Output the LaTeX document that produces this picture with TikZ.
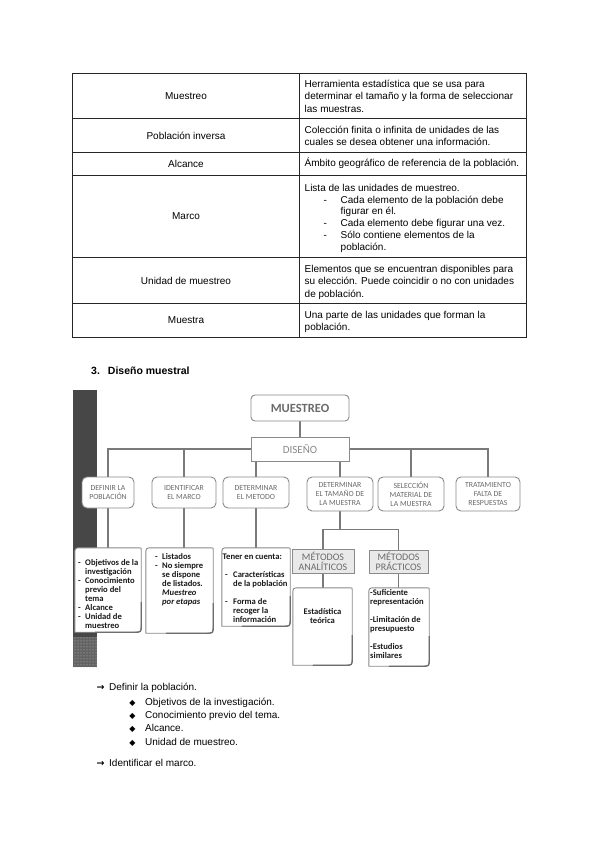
\documentclass[tikz,border=0pt]{standalone}
\usepackage{fontspec}
\setmainfont{Liberation Sans}
\newfontfamily\diagfont{Carlito}
\newfontfamily\symfont{DejaVu Sans}
\usetikzlibrary{calc,patterns,backgrounds}
\definecolor{barc}{HTML}{474747}
\definecolor{linec}{HTML}{7A7A7A}
\definecolor{boxc}{HTML}{8A8A8A}
\definecolor{txtg}{HTML}{6A6A6A}
\definecolor{fillg}{HTML}{E9E9E9}
\newcommand\curlbox[2][7]{%
  \draw[cbox] (#2.south west) -- ($(#2.north west)+(0,#1)$) .. controls (#2.north west) .. ($(#2.north west)+(#1,0)$)
    -- ($(#2.north east)+(-2,0)$) .. controls (#2.north east) .. ($(#2.north east)+(0,2)$)
    -- ($(#2.south east)+(0,-#1)$) .. controls (#2.south east) .. ($(#2.south east)+(-#1,0)$) -- cycle;
  \draw[cshadow] ($(#2.south east)+(0,-30)$) -- ($(#2.south east)+(0,-#1)$) .. controls (#2.south east) .. ($(#2.south east)+(-#1,0)$) -- ($(#2.south west)+(20,0)$);}
\begin{document}
\begin{tikzpicture}[x=1pt,y=-1pt,
  tline/.style={draw=black!85,line width=0.9pt},
  lcell/.style={font=\fontsize{10}{12.3}\selectfont,inner sep=0pt},
  rcell/.style={font=\fontsize{10}{12.3}\selectfont,inner sep=0pt,anchor=north west,align=left},
  listtxt/.style={font=\fontsize{10}{12}\selectfont,inner sep=0pt,anchor=base west},
  sym/.style={font=\symfont\fontsize{8}{10}\selectfont,inner sep=0pt,anchor=base},
  arrowsym/.style={font=\symfont\bfseries\fontsize{9.5}{11}\selectfont,inner sep=0pt,anchor=base},
  conn/.style={draw=linec,line width=1.3pt},
  topbox/.style={draw=boxc,line width=0.9pt,fill=white,rounded corners=4pt,minimum width=98pt,minimum height=26pt,
    font=\diagfont\bfseries\fontsize{12.5}{14}\selectfont,text=txtg},
  disbox/.style={draw=boxc,line width=0.9pt,fill=white,minimum width=98pt,minimum height=24pt,
    font=\diagfont\fontsize{11}{13}\selectfont,text=txtg!80},
  lvtwo/.style={draw=boxc,line width=0.9pt,fill=white,rounded corners=5pt,inner sep=1pt,align=center,
    font=\diagfont\fontsize{7.8}{9}\selectfont,text=txtg},
  metbox/.style={draw=boxc,line width=0.9pt,fill=fillg,inner sep=1pt,align=center,
    font=\diagfont\fontsize{10}{10}\selectfont,text=txtg},
  slot/.style={draw=none,inner sep=0pt},
  cbox/.style={draw=boxc,line width=0.9pt,fill=white},
  cshadow/.style={draw=boxc!80!black,line width=1.3pt},
  ctext/.style={font=\diagfont\bfseries\fontsize{8.6}{8.9}\selectfont,inner sep=0pt,anchor=north west,align=left,text=black!90}
]
\useasboundingbox (0,0) rectangle (600,848);
\begin{scope}[on background layer]
  \fill[white] (0,0) rectangle (600,848);
  % table grid
  \draw[tline] (72,73) rectangle (526,337);
  \draw[tline] (299,73) -- (299,337);
  \foreach \yy in {118,152,175,257,303} \draw[tline] (72,\yy) -- (526,\yy);
  % dark side bar
  \fill[barc] (73,390) rectangle (97,637);
  \fill[barc!85] (73,637) rectangle (97,667);
  \fill[pattern=dots,pattern color=gray!45] (73,637) rectangle (97,667);
\end{scope}

% ---------- table text
\node[lcell] (k1) at (186,96) {Muestreo};
\node[lcell] (k2) at (186,136) {Población inversa};
\node[lcell] (k3) at (186,163.5) {Alcance};
\node[lcell] (k4) at (186,216) {Marco};
\node[lcell] (k5) at (186,280.5) {Unidad de muestreo};
\node[lcell] (k6) at (186,320.5) {Muestra};

\node[rcell] (v1) at (304.5,78.6) {\strut Herramienta estadística que se usa para\\determinar el tamaño y la forma de seleccionar\\las muestras.};
\node[rcell] (v2) at (304.5,124.6) {\strut Colección finita o infinita de unidades de las\\cuales se desea obtener una información.};
\node[rcell] (v3) at (304.5,157.6) {\strut Ámbito geográfico de referencia de la población.};
\node[rcell,font=\fontsize{10}{11.9}\selectfont] (v4) at (304.5,182.6) {\strut Lista de las unidades de muestreo.\\
\hspace*{19pt}\makebox[17pt][l]{-}Cada elemento de la población debe\\
\hspace*{36pt}figurar en él.\\
\hspace*{19pt}\makebox[17pt][l]{-}Cada elemento debe figurar una vez.\\
\hspace*{19pt}\makebox[17pt][l]{-}Sólo contiene elementos de la\\
\hspace*{36pt}población.};
\node[rcell] (v5) at (304.5,263.6) {\strut Elementos que se encuentran disponibles para\\su elección. Puede coincidir o no con unidades\\de población.};
\node[rcell] (v6) at (304.5,309.6) {\strut Una parte de las unidades que forman la\\población.};

% ---------- heading
\node[anchor=base west,inner sep=0pt,font=\bfseries\fontsize{10.5}{12}\selectfont] (h3) at (91,374) {3.\hspace{8pt}Diseño muestral};

% ---------- diagram nodes
\node[topbox] (mue) at (300,408) {MUESTREO};
\node[disbox] (dis) at (300,449) {DISEÑO};
\node[lvtwo,minimum width=52pt,minimum height=31pt] (def) at (108,492.5) {DEFINIR LA\\POBLACIÓN};
\node[lvtwo,minimum width=64pt,minimum height=31pt] (ide) at (184,492.5) {IDENTIFICAR\\EL MARCO};
\node[lvtwo,minimum width=66pt,minimum height=31pt] (met) at (256,492.5) {DETERMINAR\\EL METODO};
\node[lvtwo,minimum width=66pt,minimum height=34pt] (tam) at (340,494) {DETERMINAR\\EL TAMAÑO DE\\LA MUESTRA};
\node[lvtwo,minimum width=66pt,minimum height=34pt] (sel) at (411,494) {SELECCIÓN\\MATERIAL DE\\LA MUESTRA};
\node[lvtwo,minimum width=64pt,minimum height=34pt] (tra) at (488,494) {TRATAMIENTO\\FALTA DE\\RESPUESTAS};

\node[metbox,minimum width=62pt,minimum height=24pt] (ana) at (323,561) {MÉTODOS\\ANALÍTICOS};
\node[metbox,minimum width=59pt,minimum height=23pt] (pra) at (398.5,561.5) {MÉTODOS\\PRÁCTICOS};

\node[slot,minimum width=66pt,minimum height=84pt] (c1) at (108,590) {};
\node[slot,minimum width=67pt,minimum height=85pt] (c2) at (179.5,590.5) {};
\node[slot,minimum width=68pt,minimum height=78pt] (c3) at (256,587) {};
\node[slot,minimum width=59pt,minimum height=77pt] (est) at (322.5,626.5) {};
\node[slot,minimum width=60pt,minimum height=78pt] (prc) at (399,627) {};

% ---------- connectors (behind boxes)
\begin{scope}[on background layer]
  \draw[conn] (mue) -- (dis);
  \draw[conn] (dis.west) -| (def.north);
  \draw[conn] (dis.west) -| (ide.north);
  \draw[conn] (dis.east) -| (sel.north);
  \draw[conn] (dis.east) -| (tra.north);
  \draw[conn] (met.north) -- (met.north |- dis.south);
  \draw[conn] (tam.north) -- (tam.north |- dis.south);
  \draw[conn] (def.south) -- (def.south |- c1.north);
  \draw[conn] (ide.south) -- (ide.south |- c2.north);
  \draw[conn] (met.south) -- (met.south |- c3.north);
  \draw[conn] (tam.south) -- ++(0,18) coordinate (split);
  \draw[conn] (ana.north) |- (split) -| (pra.north);
  \draw[conn] (ana.south) -- (ana.south |- est.north);
  \draw[conn] (pra.south) -- (pra.south |- prc.north);
\end{scope}

% ---------- curled content boxes
\curlbox{c1}
\curlbox{c2}
\curlbox{c3}
\curlbox{est}
\curlbox{prc}

\node[ctext] (t1) at (78,559.3) {\strut\makebox[7pt][l]{-}Objetivos de la\\
\hspace*{7pt}investigación\\
\makebox[7pt][l]{-}Conocimiento\\
\hspace*{7pt}previo del\\
\hspace*{7pt}tema\\
\makebox[7pt][l]{-}Alcance\\
\makebox[7pt][l]{-}Unidad de\\
\hspace*{7pt}muestreo};
\node[ctext] (t2) at (155,553.3) {\strut\makebox[7pt][l]{-}Listados\\
\makebox[7pt][l]{-}No siempre\\
\hspace*{7pt}se dispone\\
\hspace*{7pt}de listados.\\
\hspace*{7pt}\textit{Muestreo}\\
\hspace*{7pt}\textit{por etapas}};
\node[ctext] (t3) at (222.5,553.3) {\strut Tener en cuenta:\\ \strut\\
\hspace*{2.5pt}\makebox[8pt][l]{-}Características\\
\hspace*{10.5pt}de la población\\ \strut\\
\hspace*{2.5pt}\makebox[8pt][l]{-}Forma de\\
\hspace*{10.5pt}recoger la\\
\hspace*{10.5pt}información};
\node[ctext,anchor=north,align=center] (t4) at (322.5,608.3) {\strut Estadística\\teórica};
\node[ctext] (t5) at (370,589.3) {\strut -Suficiente\\representación\\ \strut\\
-Limitación de\\presupuesto\\ \strut\\
-Estudios\\similares};

% ---------- bullet list under the diagram
\node[arrowsym] (a1) at (100.5,690.5) {→};
\node[listtxt] (d1) at (109,690) {Definir la población.};
\node[sym] (b1) at (132.5,705) {◆};
\node[listtxt] (e1) at (145,705) {Objetivos de la investigación.};
\node[sym] (b2) at (132.5,718.3) {◆};
\node[listtxt] (e2) at (145,718.3) {Conocimiento previo del tema.};
\node[sym] (b3) at (132.5,731.6) {◆};
\node[listtxt] (e3) at (145,731.6) {Alcance.};
\node[sym] (b4) at (132.5,745) {◆};
\node[listtxt] (e4) at (145,745) {Unidad de muestreo.};
\node[arrowsym] (a2) at (100.5,766.5) {→};
\node[listtxt] (d2) at (109,766) {Identificar el marco.};
\end{tikzpicture}
\end{document}
